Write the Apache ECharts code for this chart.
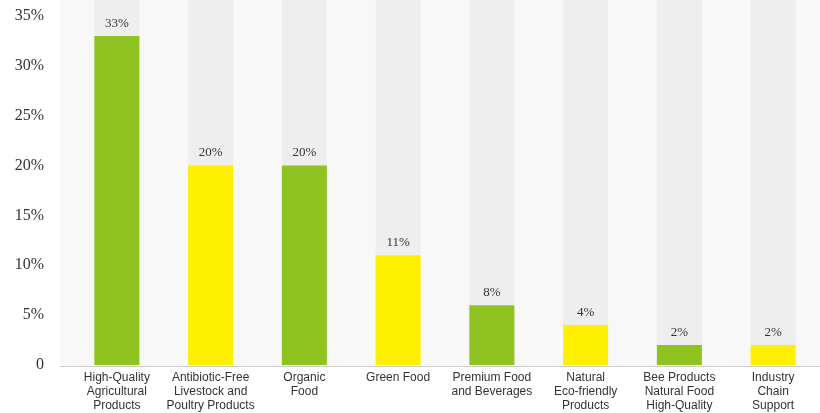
<!DOCTYPE html>
<html><head><meta charset="utf-8">
<script src="https://cdn.jsdelivr.net/npm/echarts@6/dist/echarts.min.js"></script>
<style>html,body{margin:0;padding:0;background:#fff}#c{width:820px;height:413px}</style>
</head><body><div id="c"></div>
<script>
var categories = ['High-Quality\nAgricultural\nProducts', 'Antibiotic-Free\nLivestock and\nPoultry Products', 'Organic\nFood', 'Green Food',
  'Premium Food\nand Beverages', 'Natural\nEco-friendly\nProducts', 'Bee Products\nNatural Food\nHigh-Quality', 'Industry\nChain\nSupport'];
var values = [33, 20, 20, 11, 6, 4, 2, 2];
var labels = ['33%', '20%', '20%', '11%', '8%', '4%', '2%', '2%'];
var colors = ['#8fc31f', '#fff000'];

var chart = echarts.init(document.getElementById('c'));
chart.setOption({
  animation: false,
  grid: { left: 70, right: -10, top: 0, bottom: 47 },
  graphic: [
    { type: 'rect', z: -10, shape: { x: 60, y: 0, width: 760, height: 366 }, style: { fill: '#f8f8f8' } },
    { type: 'line', z: 10, shape: { x1: 60, y1: 366.5, x2: 820, y2: 366.5 }, style: { stroke: '#cccccc', lineWidth: 1 } }
  ],
  xAxis: {
    type: 'category', data: categories,
    axisLine: { show: false }, axisTick: { show: false },
    axisLabel: { interval: 0, color: '#333', fontFamily: 'Liberation Sans, Arial', fontSize: 12, lineHeight: 14, margin: 6 }
  },
  yAxis: {
    type: 'value', min: 0, max: 36.6, interval: 5,
    splitLine: { show: false },
    axisLabel: { showMaxLabel: false, color: '#333', fontFamily: 'Liberation Serif, DejaVu Serif', fontSize: 16, margin: 26,
      formatter: function (v) { return v === 0 ? '0' : v + '%'; } }
  },
  series: [{
    type: 'bar', barWidth: 45, data: values,
    showBackground: true, backgroundStyle: { color: '#eeeeee' },
    itemStyle: { color: function (p) { return colors[p.dataIndex % 2]; } },
    label: { show: true, position: 'top', distance: 6, color: '#333', fontFamily: 'Liberation Serif, DejaVu Serif', fontSize: 13,
      formatter: function (p) { return labels[p.dataIndex]; } }
  }]
});
</script></body></html>
